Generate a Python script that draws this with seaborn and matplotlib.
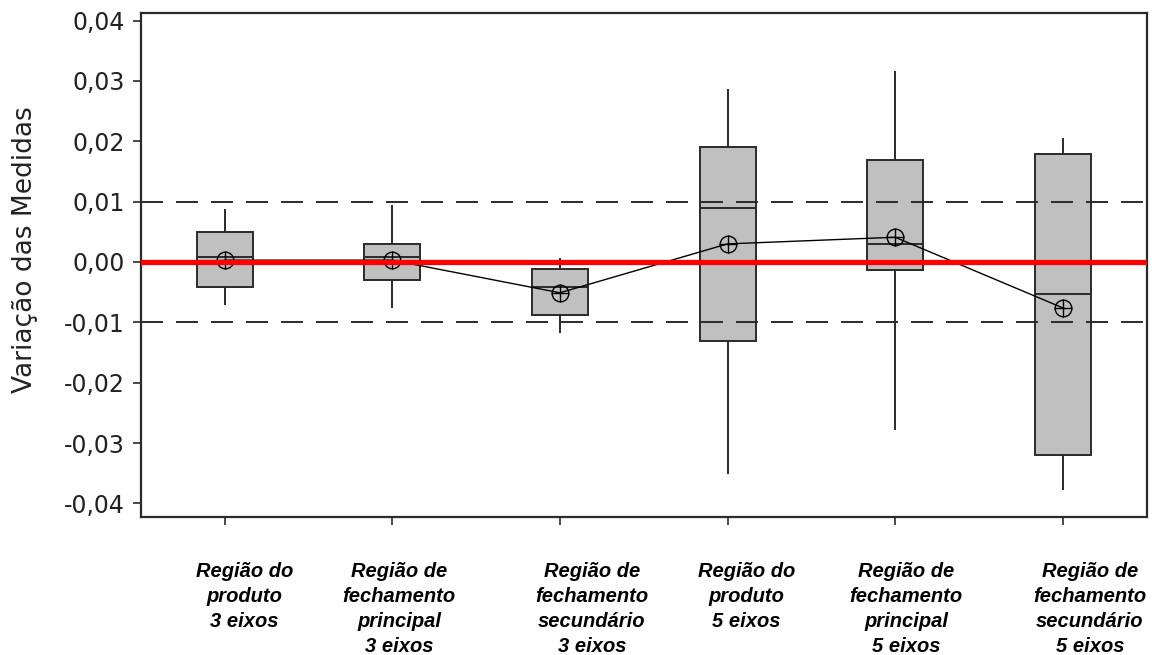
import matplotlib
matplotlib.use("Agg")
import matplotlib.pyplot as plt
import matplotlib.transforms as mtransforms
from matplotlib.ticker import FuncFormatter, MultipleLocator
import pandas as pd
import seaborn as sns

# Dados (mín, Q1, mediana, Q3, máx e média de cada região)
regioes = [
    "Região do\nproduto\n3 eixos",
    "Região de\nfechamento\nprincipal\n3 eixos",
    "Região de\nfechamento\nsecundário\n3 eixos",
    "Região do\nproduto\n5 eixos",
    "Região de\nfechamento\nprincipal\n5 eixos",
    "Região de\nfechamento\nsecundário\n5 eixos",
]
minimos = [-0.0071, -0.0076, -0.0118, -0.0351, -0.0278, -0.0378]
q1 = [-0.0041, -0.0030, -0.0088, -0.0131, -0.0013, -0.0319]
medianas = [0.0008, 0.0008, -0.0041, 0.0090, 0.0030, -0.0053]
q3 = [0.0049, 0.0030, -0.0012, 0.0190, 0.0169, 0.0179]
maximos = [0.0088, 0.0094, 0.0006, 0.0286, 0.0316, 0.0206]
medias = [0.0003, 0.0003, -0.0051, 0.0030, 0.0041, -0.0076]
limites = [-0.01, 0.01]

# tabela longa: 5 pontos por região -> quartis exatos
linhas = []
for i, r in enumerate(regioes):
    for v in (minimos[i], q1[i], medianas[i], q3[i], maximos[i]):
        linhas.append({"regiao": r, "valor": v})
df = pd.DataFrame(linhas)
df_media = pd.DataFrame({"regiao": regioes, "media": medias})

sns.set_theme(style="ticks")
plt.rcParams["font.family"] = ["DejaVu Sans"]

fig = plt.figure(figsize=(11.58, 6.55), dpi=100)
ax = fig.add_axes([0.1215, 0.2111, 0.8687, 0.7686])

cor_linha = "#2a2a2a"
sns.boxplot(
    data=df, x="regiao", y="valor", order=regioes, ax=ax,
    whis=(0, 100), width=0.334, color="#c0c0c0", saturation=1,
    linewidth=1.4, linecolor=cor_linha, fliersize=0,
    boxprops={"facecolor": "#c0c0c0", "edgecolor": cor_linha, "zorder": 2},
    capprops={"linewidth": 0},
)

# linhas de referência
for lim in limites:
    ax.axhline(lim, color=cor_linha, lw=1.4, linestyle=(0, (11.3, 6.7)), zorder=4)

# médias ligadas
sns.pointplot(
    data=df_media, x="regiao", y="media", order=regioes, ax=ax,
    color="black", errorbar=None, marker="o", markersize=12,
    markerfacecolor="none", markeredgewidth=1.0, linewidth=1.0, zorder=5,
)
sns.pointplot(
    data=df_media, x="regiao", y="media", order=regioes, ax=ax,
    color="black", errorbar=None, marker="+", markersize=13,
    markeredgewidth=1.0, linestyle="none", zorder=5,
)

ax.axhline(0, color="#ff0000", lw=3.8, zorder=6)

ax.set_xlim(-0.5, 5.5)
ax.set_ylim(-0.0422, 0.0412)
ax.yaxis.set_major_locator(MultipleLocator(0.01))
ax.yaxis.set_major_formatter(FuncFormatter(lambda v, p: f"{v:.2f}".replace(".", ",")))

ax.set_xlabel("")
ax.set_ylabel("Variação das Medidas", fontsize=19, color="#222222")
ax.yaxis.set_label_coords(-0.102, 0.53)

ax.tick_params(axis="y", length=5.5, width=1.2, pad=6, labelsize=17,
               colors=cor_linha, labelcolor="#222222")
ax.tick_params(axis="x", length=5.8, width=1.2, pad=27, colors=cor_linha,
               labelcolor="black")
ax.set_xticks(range(len(regioes)))
ax.set_xticklabels(regioes, fontsize=14.5, fontweight="bold", fontstyle="italic",
                   family="Liberation Sans", linespacing=1.4)

# rótulos levemente deslocados para a direita como no original
desloc = [20, 7, 32, 19, 11, 27]
for lab, dx in zip(ax.get_xticklabels(), desloc):
    lab.set_transform(lab.get_transform() +
                      mtransforms.ScaledTranslation(dx / 100, 0, fig.dpi_scale_trans))

for s in ax.spines.values():
    s.set_visible(True)
    s.set_color(cor_linha)
    s.set_linewidth(1.6)

fig.savefig("out.png", dpi=100, facecolor="white")
